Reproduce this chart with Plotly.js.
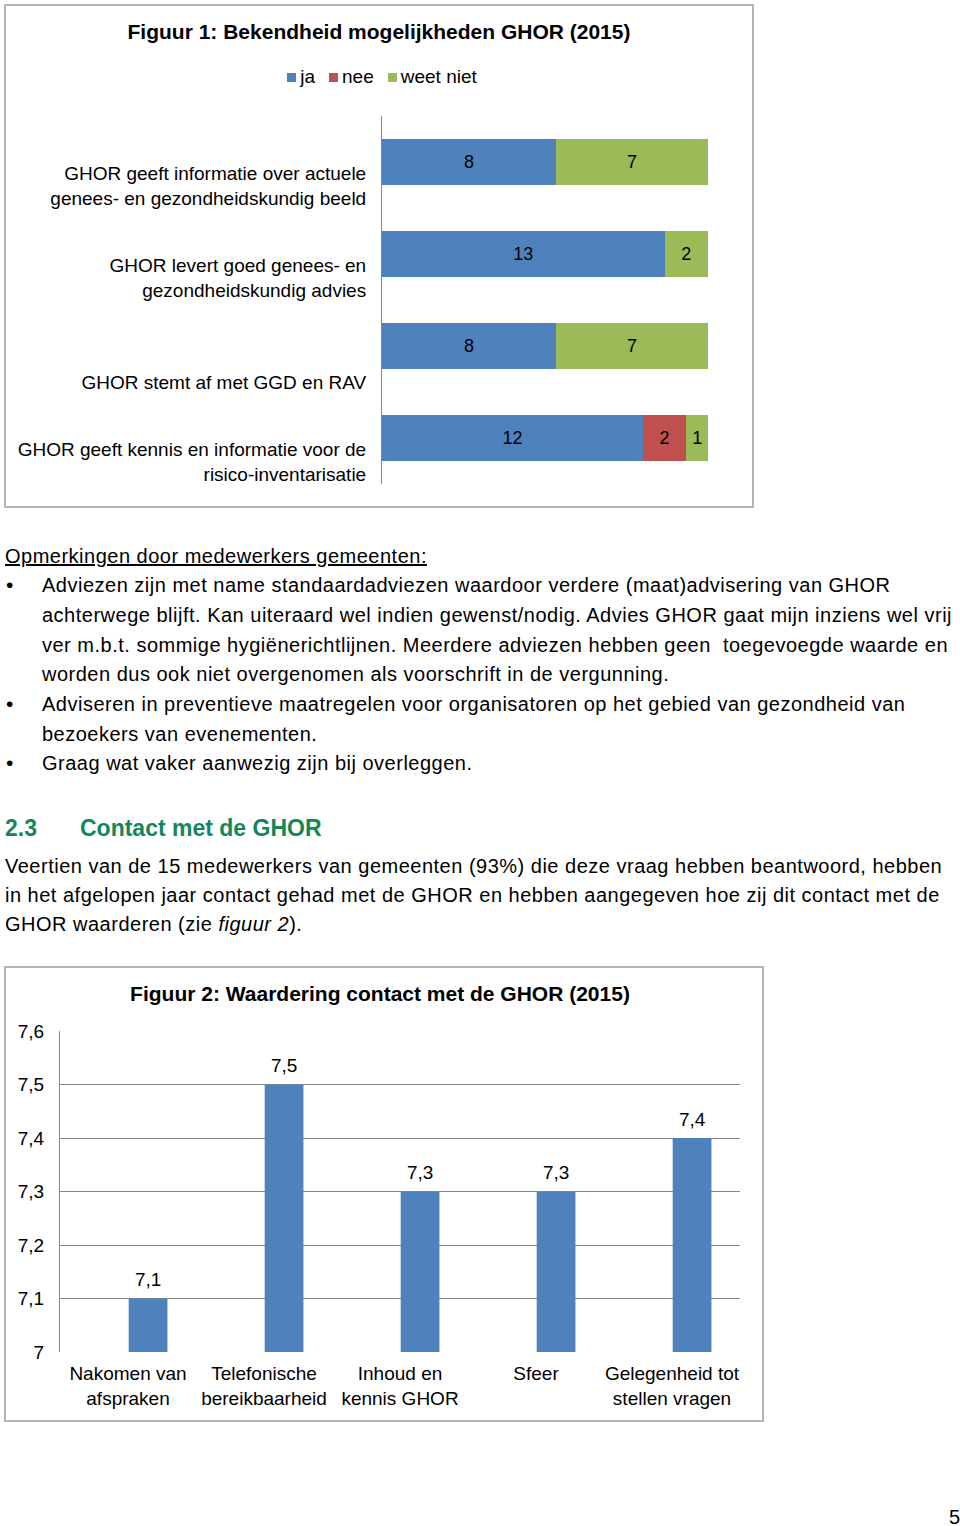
<!DOCTYPE html>
<html>
<head>
<meta charset="utf-8">
<script src="https://cdn.plot.ly/plotly-3.0.1.min.js"></script>
<style>
  html, body { margin:0; padding:0; background:#fff; }
  body { width:960px; height:1526px; position:relative; overflow:hidden; font-family:"Liberation Sans", Arial, sans-serif; color:#000; }
  .frame { position:absolute; border:2px solid #b4b4b4; box-sizing:border-box; }
  .chart { position:absolute; }
  .ln { position:absolute; white-space:nowrap; font-size:20px; letter-spacing:0.5px; line-height:30px; height:30px; }
  .bul { position:absolute; font-size:21px; line-height:30px; }
  .h2 { position:absolute; white-space:nowrap; font-size:23px; font-weight:bold; color:#12875a; line-height:30px; }
  #legend1 { position:absolute; left:0; width:764px; top:65px; height:24px; text-align:center; font-size:19px; line-height:24px; white-space:nowrap; }
  #legend1 .it { display:inline-block; margin:0 7px; }
  #legend1 .sw { display:inline-block; width:9px; height:9px; margin-right:4px; vertical-align:1px; }
</style>
</head>
<body>
<div class="frame" style="left:4px;top:4px;width:750px;height:504px;"></div>
<div id="c1" class="chart" style="left:0;top:0;width:760px;height:512px;"></div>
<div id="legend1"></div>

<div class="ln" style="left:5px;top:541px;text-decoration:underline;">Opmerkingen door medewerkers gemeenten:</div>
<div class="bul" style="left:6px;top:570px;">•</div>
<div class="ln" style="left:42px;top:570px;">Adviezen zijn met name standaardadviezen waardoor verdere (maat)advisering van GHOR</div>
<div class="ln" style="left:42px;top:600px;">achterwege blijft. Kan uiteraard wel indien gewenst/nodig. Advies GHOR gaat mijn inziens wel vrij</div>
<div class="ln" style="left:42px;top:630px;">ver m.b.t. sommige hygiënerichtlijnen. Meerdere adviezen hebben geen&nbsp; toegevoegde waarde en</div>
<div class="ln" style="left:42px;top:659px;">worden dus ook niet overgenomen als voorschrift in de vergunning.</div>
<div class="bul" style="left:6px;top:689px;">•</div>
<div class="ln" style="left:42px;top:689px;">Adviseren in preventieve maatregelen voor organisatoren op het gebied van gezondheid van</div>
<div class="ln" style="left:42px;top:719px;">bezoekers van evenementen.</div>
<div class="bul" style="left:6px;top:748px;">•</div>
<div class="ln" style="left:42px;top:748px;">Graag wat vaker aanwezig zijn bij overleggen.</div>

<div class="h2" style="left:5px;top:813px;">2.3</div>
<div class="h2" style="left:80px;top:813px;">Contact met de GHOR</div>

<div class="ln" style="left:5px;top:851px;">Veertien van de 15 medewerkers van gemeenten (93%) die deze vraag hebben beantwoord, hebben</div>
<div class="ln" style="left:5px;top:880px;">in het afgelopen jaar contact gehad met de GHOR en hebben aangegeven hoe zij dit contact met de</div>
<div class="ln" style="left:5px;top:909px;">GHOR waarderen (zie <i>figuur 2</i>).</div>

<div class="frame" style="left:4px;top:966px;width:760px;height:456px;"></div>
<div id="c2" class="chart" style="left:0;top:960px;width:770px;height:470px;"></div>

<div class="ln" style="left:949px;top:1502px;">5</div>

<script>
// ---------- Figure 1 data ----------
const fig1Title = 'Figuur 1: Bekendheid mogelijkheden GHOR (2015)';
const fig1Categories = [
  'GHOR geeft informatie over actuele<br>genees- en gezondheidskundig beeld',
  'GHOR levert goed genees- en<br>gezondheidskundig advies',
  '<br>GHOR stemt af met GGD en RAV',
  'GHOR geeft kennis en informatie voor de<br>risico-inventarisatie'
];
const fig1Ja = [8, 13, 8, 12];
const fig1Nee = [0, 0, 0, 2];
const fig1WeetNiet = [7, 2, 7, 1];
const fig1SeriesNames = ['ja', 'nee', 'weet niet'];
const fig1Colors = ['#4f81bd', '#c0504d', '#9bbb59'];

// ---------- Figure 2 data ----------
const fig2Title = 'Figuur 2: Waardering contact met de GHOR (2015)';
const fig2Categories = [
  'Nakomen van<br>afspraken',
  'Telefonische<br>bereikbaarheid',
  'Inhoud en<br>kennis GHOR',
  'Sfeer',
  'Gelegenheid tot<br>stellen vragen'
];
const fig2Values = [7.1, 7.5, 7.3, 7.3, 7.4];

const FONT = 'Liberation Sans, Arial, sans-serif';

// legend for figure 1 (built from the series names / colours)
document.getElementById('legend1').innerHTML = fig1SeriesNames.map((n, i) =>
  '<span class="it"><span class="sw" style="background:' + fig1Colors[i] + '"></span>' + n + '</span>'
).join('');

const series1 = [fig1Ja, fig1Nee, fig1WeetNiet];
const traces1 = series1.map((vals, i) => ({
  type: 'bar',
  orientation: 'h',
  name: fig1SeriesNames[i],
  y: fig1Categories,
  x: vals,
  text: vals.map(v => v ? String(v) : ''),
  textposition: 'inside',
  insidetextanchor: 'middle',
  constraintext: 'none',
  textfont: { family: FONT, size: 18, color: '#000' },
  marker: { color: fig1Colors[i], line: { width: 0 } },
  hoverinfo: 'none'
}));

const layout1 = {
  width: 760, height: 512,
  margin: { l: 382, r: 52, t: 116, b: 28, pad: 0 },
  paper_bgcolor: 'rgba(0,0,0,0)',
  plot_bgcolor: 'rgba(0,0,0,0)',
  barmode: 'stack',
  bargap: 0.5,
  font: { family: FONT, size: 19, color: '#000' },
  title: {
    text: '<b>' + fig1Title + '</b>',
    font: { family: FONT, size: 21, color: '#000' },
    xref: 'container', x: 379 / 760, xanchor: 'center',
    yref: 'container', y: 1 - 32 / 512, yanchor: 'middle'
  },
  showlegend: false,
  xaxis: {
    range: [0, 15], visible: false, fixedrange: true
  },
  yaxis: {
    type: 'category',
    autorange: 'reversed',
    showline: true, linecolor: '#888888', linewidth: 1,
    showgrid: false, zeroline: false,
    ticks: '',
    ticklabelstandoff: 11,
    ticklabelshift: -24,
    tickfont: { family: FONT, size: 19, color: '#000' }
  }
};

Plotly.newPlot('c1', traces1, layout1, { staticPlot: true, displayModeBar: false });

const trace2 = {
  type: 'bar',
  x: fig2Categories,
  y: fig2Values,
  marker: { color: '#4f81bd', line: { width: 0 } },
  width: 0.285,
  offset: 0.005,
  hoverinfo: 'none'
};

const layout2 = {
  width: 770, height: 470,
  margin: { l: 60, r: 30, t: 71, b: 78, pad: 0 },
  paper_bgcolor: 'rgba(0,0,0,0)',
  plot_bgcolor: 'rgba(0,0,0,0)',
  separators: ',.',
  showlegend: false,
  font: { family: FONT, size: 19, color: '#000' },
  title: {
    text: '<b>' + fig2Title + '</b>',
    font: { family: FONT, size: 21, color: '#000' },
    xref: 'container', x: 380 / 770, xanchor: 'center',
    yref: 'container', y: 1 - 34 / 470, yanchor: 'middle'
  },
  annotations: fig2Categories.map((c, i) => ({
    x: c, y: fig2Values[i], xref: 'x', yref: 'y',
    text: fig2Values[i].toFixed(1).replace('.', ','),
    showarrow: false,
    xanchor: 'center', yanchor: 'middle',
    xshift: 20, yshift: 19,
    font: { family: FONT, size: 19, color: '#000' }
  })),
  xaxis: {
    type: 'category',
    showline: false, showgrid: false, zeroline: false,
    ticks: '',
    ticklabelstandoff: 8,
    tickfont: { family: FONT, size: 19, color: '#000' }
  },
  yaxis: {
    range: [7, 7.6], dtick: 0.1, tick0: 7,
    showline: true, linecolor: '#888888', linewidth: 1,
    showgrid: true, gridcolor: '#888888', gridwidth: 1,
    zeroline: false,
    ticks: '',
    ticklabelstandoff: 11,
    tickfont: { family: FONT, size: 19, color: '#000' }
  }
};

Plotly.newPlot('c2', [trace2], layout2, { staticPlot: true, displayModeBar: false });
</script>
</body>
</html>
